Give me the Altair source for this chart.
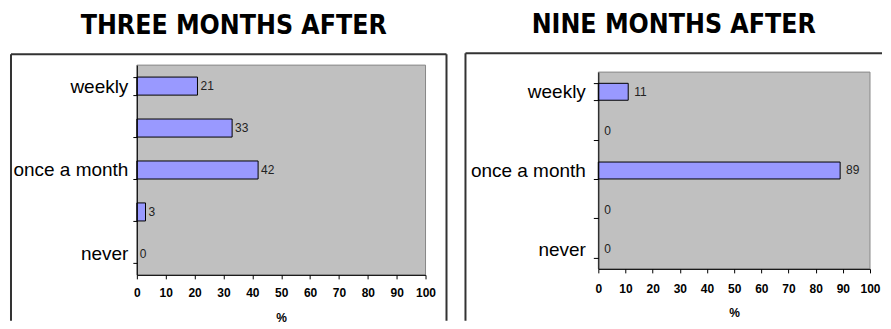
import altair as alt
import pandas as pd

categories = ["weekly", "(2)", "once a month", "(4)", "never"]
shown_labels = ["weekly", "once a month", "never"]
three_months = [21, 33, 42, 3, 0]
nine_months = [11, 0, 89, 0, 0]
x_ticks = [0, 10, 20, 30, 40, 50, 60, 70, 80, 90, 100]
titles = ["THREE MONTHS AFTER", "NINE MONTHS AFTER"]

label_expr = "indexof(" + str(shown_labels) + ", datum.value) >= 0 ? datum.value : ''"
one = pd.DataFrame({"k": [0]})
FRAME = "#333333"


def panel(values, title, w, h, top_gap, fx0, fx1, fy0, fy1, right_line, ytick,
          ypad, xpad, xtpad, tdx, ldx):
    df = pd.DataFrame({"cat": categories, "pct": values})
    base = alt.Chart(df).encode(
        y=alt.Y("cat:N", sort=categories,
                scale=alt.Scale(paddingInner=0.57, paddingOuter=0.285,
                                range=[top_gap, h]),
                axis=alt.Axis(title=None, labelExpr=label_expr, tickBand="extent",
                              labelFontSize=19, labelFont="Liberation Sans",
                              labelColor="black", tickSize=ytick, labelPadding=ypad,
                              domainColor="black", tickColor="black", zindex=1)),
        x=alt.X("pct:Q", scale=alt.Scale(domain=[0, 100], nice=False),
                axis=alt.Axis(title="%", values=x_ticks, grid=False, tickSize=4,
                              labelFlush=False, labelFontSize=12,
                              labelFont="Liberation Sans",
                              labelFontWeight="bold", labelColor="black",
                              labelPadding=xpad, titleFont="Liberation Sans",
                              titleFontSize=12, titleFontWeight="bold",
                              titleColor="black", titlePadding=xtpad,
                              domainColor="black", tickColor="black", zindex=1)),
    )
    bars = base.mark_bar(color="#9999ff", stroke="black", strokeWidth=1).encode(
        strokeOpacity=alt.condition("datum.pct == 0", alt.value(0), alt.value(1)))
    text = base.mark_text(align="left", baseline="middle", dx=ldx, fontSize=12,
                          font="Liberation Sans", color="#222222").encode(
        text=alt.Text("pct:Q"))
    fr = alt.Chart(one)
    bg = fr.mark_rect(fill="#c0c0c0", stroke="#888888", strokeWidth=1).encode(
        x=alt.value(0), x2=alt.value(w), y=alt.value(top_gap), y2=alt.value(h))
    left = fr.mark_rule(color=FRAME, strokeWidth=2).encode(
        x=alt.value(fx0), y=alt.value(fy0), y2=alt.value(fy1))
    top = fr.mark_rule(color=FRAME, strokeWidth=2).encode(
        x=alt.value(fx0), x2=alt.value(fx1), y=alt.value(fy0))
    layers = [bg, left, top]
    if right_line:
        layers.append(fr.mark_rule(color=FRAME, strokeWidth=2).encode(
            x=alt.value(fx1), y=alt.value(fy0), y2=alt.value(fy1)))
    layers += [bars, text]
    return alt.layer(*layers).properties(
        width=w, height=h,
        title=alt.TitleParams(title, font="DejaVu Sans Condensed, DejaVu Sans",
                              fontSize=26.5, fontWeight="bold", color="black",
                              anchor="middle", frame="bounds", offset=14, dx=tdx),
    )


left_panel = panel(three_months, titles[0], 289, 210, 0, -126, 310, -11, 256, True,
                   4, 5, 9, 14, 5, 3)
right_panel = panel(nine_months, titles[1], 272, 204, 7, -133, 284, -12, 256, False,
                    5, 8, 11, 13, 0, 6)

chart = alt.hconcat(left_panel, right_panel, spacing=17).properties(
    padding={"left": 2, "top": 3, "right": 0, "bottom": 0}
).configure_view(strokeWidth=0)

chart.save("out.html", embed_options={"renderer": "svg", "actions": False})
